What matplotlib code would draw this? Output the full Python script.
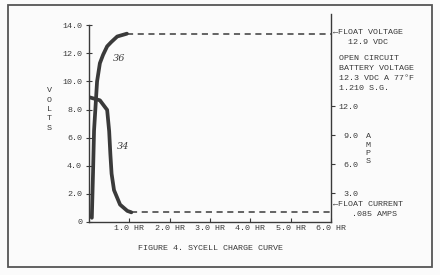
import matplotlib.pyplot as plt
from matplotlib.patches import Rectangle

# curve 36: battery voltage (volts) vs hours
volt_t = [0.07, 0.10, 0.125, 0.20, 0.27, 0.35, 0.45, 0.55, 0.70, 0.94]
volt_v = [0.3, 3.5, 6.5, 10.0, 11.3, 11.9, 12.5, 12.8, 13.2, 13.4]
float_volt = 13.4

# curve 34: charge current (amps) vs hours
amp_t = [0.02, 0.27, 0.45, 0.50, 0.53, 0.56, 0.62, 0.77, 0.95, 1.05]
amp_a = [12.9, 12.6, 11.6, 9.4, 7.0, 5.0, 3.3, 1.8, 1.15, 1.0]
float_amp = 1.0

hours = [1, 2, 3, 4, 5, 6]
hour_labels = ["1.0 HR", "2.0 HR", "3.0 HR", "4.0 HR", "5.0 HR", "6.0 HR"]
volt_ticks = [0, 2, 4, 6, 8, 10, 12, 14]
volt_labels = ["0", "2.0", "4.0", "6.0", "8.0", "10.0", "12.0", "14.0"]
amp_ticks = [3, 6, 9, 12]
amp_labels = ["3.0", "6.0", "9.0", "12.0"]

W, H = 440, 275
ink = "#3a3a3a"
font = "Liberation Mono"
fs = 6

fig = plt.figure(figsize=(4.4, 2.75), dpi=100)
fig.patch.set_facecolor("#fbfbfb")

# outer frame
fig.add_artist(Rectangle((8 / W, 1 - 267 / H), 424 / W, 262 / H,
                         transform=fig.transFigure, fill=False,
                         edgecolor="#555555", linewidth=1.3))

ax = fig.add_axes([89 / W, 1 - 222 / H, 242 / W, 208 / H])
ax.set_facecolor("none")
ax.set_xlim(0, 6)
ax.set_ylim(0, 14.8)
ax2 = ax.twinx()
ax2.set_ylim(0, 14.8 * 14.07 / 9.67)

# voltage curve and float voltage
ax.plot(volt_t, volt_v, color=ink, lw=2.7, solid_capstyle="round",
        solid_joinstyle="round")
ax.plot([volt_t[-1], 6], [float_volt, float_volt], color=ink, lw=1.1,
        dashes=(4, 3))
# current curve and float current
ax2.plot(amp_t, amp_a, color=ink, lw=2.7, solid_capstyle="round",
         solid_joinstyle="round")
ax2.plot([amp_t[-1], 6], [float_amp, float_amp], color=ink, lw=1.1,
         dashes=(4, 3))

for a in (ax, ax2):
    a.spines["top"].set_visible(False)
    for s in a.spines.values():
        s.set_color(ink)
        s.set_linewidth(1.0)
ax.spines["right"].set_visible(False)
ax2.spines["left"].set_visible(False)
ax2.spines["bottom"].set_visible(False)
ax.spines["left"].set_bounds(0, 14)

ax.set_xticks(hours)
ax.set_xticklabels(hour_labels, fontsize=fs, family=font, color=ink)
ax.tick_params(axis="x", direction="in", length=3, width=0.8, color=ink, pad=2)
ax.set_yticks(volt_ticks)
ax.set_yticklabels(volt_labels, fontsize=fs, family=font, color=ink)
ax.tick_params(axis="y", direction="inout", length=4, width=0.8, color=ink, pad=3)
ax2.set_yticks(amp_ticks)
ax2.set_yticklabels(amp_labels, fontsize=fs, family=font, color=ink, ha="right")
ax2.tick_params(axis="y", direction="out", length=3, width=0.8, color=ink, pad=17)

# stacked axis titles
for i, ch in enumerate("VOLTS"):
    fig.text(49 / W, 1 - (91 + i * 9.3) / H, ch, fontsize=fs, family=font,
             color=ink, ha="center", va="center")
for i, ch in enumerate("AMPS"):
    fig.text(368 / W, 1 - (137 + i * 8.2) / H, ch, fontsize=fs, family=font,
             color=ink, ha="center", va="center")

# curve labels
ax.text(0.58, 11.6, "36", fontsize=7, style="italic", color=ink,
        family="DejaVu Serif", va="center")
ax.text(0.70, 5.4, "34", fontsize=7, style="italic", color=ink,
        family="DejaVu Serif", va="center")

# right side notes
notes = [
    (333, 33, "\u2190FLOAT VOLTAGE"),
    (348, 43, "12.9 VDC"),
    (339, 58, "OPEN CIRCUIT"),
    (339, 68, "BATTERY VOLTAGE"),
    (339, 78, "12.3 VDC A 77\u00b0F"),
    (339, 88, "1.210 S.G."),
    (333, 205, "\u2190FLOAT CURRENT"),
    (352, 215, ".085 AMPS"),
]
for x, y, s in notes:
    fig.text(x / W, 1 - y / H, s, fontsize=fs, family=font, color=ink,
             ha="left", va="center")

fig.text(210 / W, 1 - 249 / H, "FIGURE 4. SYCELL CHARGE CURVE", fontsize=fs,
         family=font, color=ink, ha="center", va="center")

fig.savefig("out.png", dpi=100, facecolor=fig.get_facecolor())
